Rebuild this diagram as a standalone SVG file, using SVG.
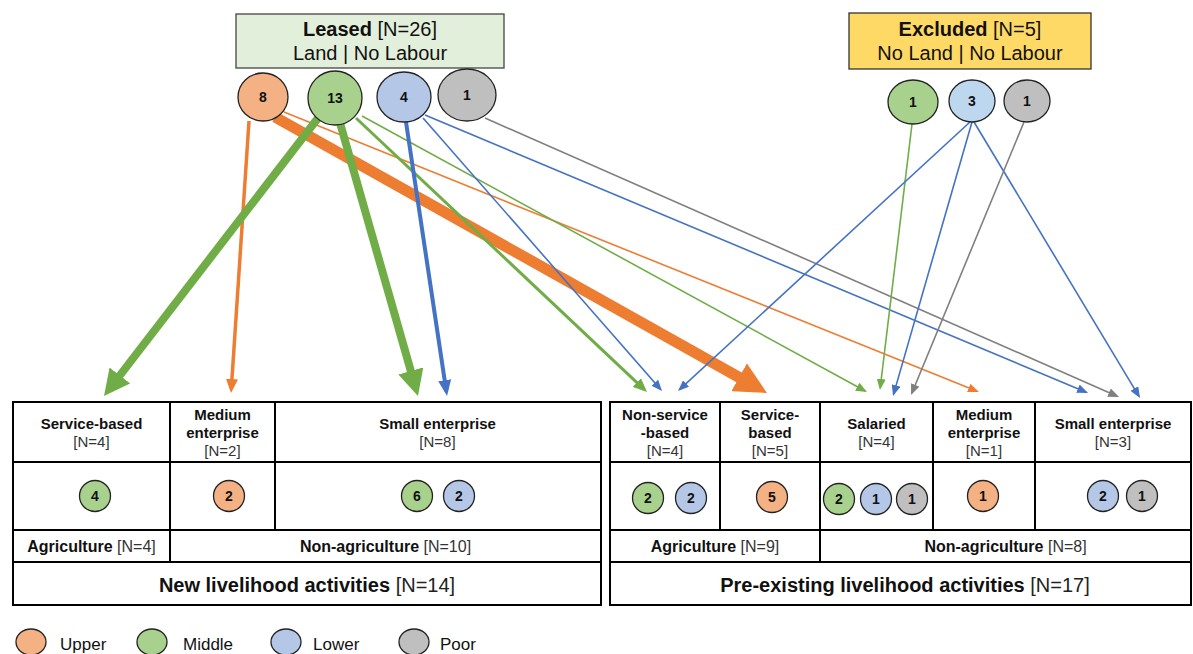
<svg xmlns="http://www.w3.org/2000/svg" width="1193" height="654" viewBox="0 0 1193 654">
  <style>
    text { font-family: "Liberation Sans", Arial, sans-serif; fill: #111; }
    .hd { font-size: 15px; font-weight: bold; text-anchor: middle; }
    .n { font-size: 15px; font-weight: normal; fill: #333; }
    .row { font-size: 16px; font-weight: bold; text-anchor: middle; }
    .title { font-size: 20px; font-weight: bold; text-anchor: middle; }
    .box { font-size: 20px; text-anchor: middle; }
    .num { font-size: 14px; font-weight: bold; text-anchor: middle; }
    .leg { font-size: 17px; }
    .cell { fill: #fff; stroke: #000; stroke-width: 2; }
    .up { fill: #f4b183; stroke: #222; stroke-width: 1.3; }
    .mid { fill: #a9d18e; stroke: #222; stroke-width: 1.3; }
    .low { fill: #b4c7e7; stroke: #222; stroke-width: 1.3; }
    .low2 { fill: #bdd7ee; stroke: #222; stroke-width: 1.3; }
    .poor { fill: #bfbfbf; stroke: #222; stroke-width: 1.3; }
    .c { fill: none; }
    .co { stroke: #ed7d31; }
    .cg { stroke: #70ad47; }
    .cb { stroke: #4472c4; }
    .cy { stroke: #7f7f7f; }
  </style>
  <defs>
    <marker id="sm-o" markerUnits="userSpaceOnUse" markerWidth="11" markerHeight="9" viewBox="0 0 11 9" refX="9" refY="4.5" orient="auto"><path d="M0,0 L11,4.5 L0,9 z" fill="#ed7d31"/></marker>
    <marker id="sm-g" markerUnits="userSpaceOnUse" markerWidth="11" markerHeight="9" viewBox="0 0 11 9" refX="9" refY="4.5" orient="auto"><path d="M0,0 L11,4.5 L0,9 z" fill="#70ad47"/></marker>
    <marker id="sm-b" markerUnits="userSpaceOnUse" markerWidth="11" markerHeight="9" viewBox="0 0 11 9" refX="9" refY="4.5" orient="auto"><path d="M0,0 L11,4.5 L0,9 z" fill="#4472c4"/></marker>
    <marker id="sm-y" markerUnits="userSpaceOnUse" markerWidth="11" markerHeight="9" viewBox="0 0 11 9" refX="9" refY="4.5" orient="auto"><path d="M0,0 L11,4.5 L0,9 z" fill="#7f7f7f"/></marker>
    <marker id="md-o" markerUnits="userSpaceOnUse" markerWidth="14" markerHeight="12" viewBox="0 0 14 12" refX="10" refY="6" orient="auto"><path d="M0,0 L14,6 L0,12 z" fill="#ed7d31"/></marker>
    <marker id="md-g" markerUnits="userSpaceOnUse" markerWidth="14" markerHeight="12" viewBox="0 0 14 12" refX="10" refY="6" orient="auto"><path d="M0,0 L14,6 L0,12 z" fill="#70ad47"/></marker>
    <marker id="bl-b" markerUnits="userSpaceOnUse" markerWidth="16" markerHeight="13" viewBox="0 0 16 13" refX="11" refY="6.5" orient="auto"><path d="M0,0 L16,6.5 L0,13 z" fill="#4472c4"/></marker>
    <marker id="lg-g" markerUnits="userSpaceOnUse" markerWidth="26" markerHeight="26" viewBox="0 0 26 26" refX="17" refY="13" orient="auto"><path d="M0,0 L26,13 L0,26 z" fill="#70ad47"/></marker>
    <marker id="xl-o" markerUnits="userSpaceOnUse" markerWidth="32" markerHeight="32" viewBox="0 0 32 32" refX="20" refY="16" orient="auto"><path d="M0,0 L32,16 L0,32 z" fill="#ed7d31"/></marker>
  </defs>

  <rect width="1193" height="654" fill="#fff"/>

  <!-- connectors -->
  <g id="connectors" class="c">
    <!-- from Leased / Upper -->
    <path class="co" d="M249,121 L231.3,389" stroke-width="3.5" marker-end="url(#md-o)"/>
    <path class="co" d="M275,117 L756.5,387.1" stroke-width="11" marker-end="url(#xl-o)"/>
    <path class="co" d="M284,112 L977.1,391.3" stroke-width="1.6" marker-end="url(#sm-o)"/>
    <!-- from Leased / Middle -->
    <path class="cg" d="M318,118 L109.5,388.9" stroke-width="8" marker-end="url(#lg-g)"/>
    <path class="cg" d="M340,123 L415.5,387.3" stroke-width="8" marker-end="url(#lg-g)"/>
    <path class="cg" d="M356,118 L644.1,389.3" stroke-width="3" marker-end="url(#md-g)"/>
    <path class="cg" d="M362,116 L865.2,391" stroke-width="1.6" marker-end="url(#sm-g)"/>
    <!-- from Leased / Lower -->
    <path class="cb" d="M406,122 L446.3,391.1" stroke-width="4" marker-end="url(#bl-b)"/>
    <path class="cb" d="M423,118 L660.7,389.5" stroke-width="1.6" marker-end="url(#sm-b)"/>
    <path class="cb" d="M425,115 L1086.2,392.2" stroke-width="1.6" marker-end="url(#sm-b)"/>
    <!-- from Leased / Poor -->
    <path class="cy" d="M485,118 L1117.2,396.2" stroke-width="1.6" marker-end="url(#sm-y)"/>
    <!-- from Excluded -->
    <path class="cg" d="M912,124 L880.2,388" stroke-width="1.6" marker-end="url(#sm-g)"/>
    <path class="cb" d="M970,122 L679.5,389.6" stroke-width="1.6" marker-end="url(#sm-b)"/>
    <path class="cb" d="M972,122 L893.6,394.1" stroke-width="1.6" marker-end="url(#sm-b)"/>
    <path class="cb" d="M974,122 L1139,396.3" stroke-width="1.6" marker-end="url(#sm-b)"/>
    <path class="cy" d="M1024,122 L911.8,393.2" stroke-width="1.6" marker-end="url(#sm-y)"/>
  </g>

  <!-- Leased group -->
  <g id="leased">
    <rect x="236" y="14" width="268" height="54" fill="#e2efda" stroke="#444" stroke-width="1.3"/>
    <text class="box" x="370" y="36"><tspan font-weight="bold">Leased</tspan> [N=26]</text>
    <text class="box" x="370" y="60">Land | No Labour</text>
  </g>
  <g id="leased-upper"><ellipse class="up" cx="263" cy="97" rx="25" ry="24"/><text class="num" x="263" y="102">8</text></g>
  <g id="leased-middle"><ellipse class="mid" cx="335" cy="98" rx="27" ry="27"/><text class="num" x="335" y="103">13</text></g>
  <g id="leased-lower"><ellipse class="low" cx="404" cy="97" rx="27" ry="25"/><text class="num" x="404" y="102">4</text></g>
  <g id="leased-poor"><ellipse class="poor" cx="467" cy="95" rx="29" ry="26"/><text class="num" x="467" y="100">1</text></g>

  <!-- Excluded group -->
  <g id="excluded">
    <rect x="849" y="13" width="242" height="56" fill="#ffd966" stroke="#333" stroke-width="1.3"/>
    <text class="box" x="970" y="36"><tspan font-weight="bold">Excluded</tspan> [N=5]</text>
    <text class="box" x="970" y="60">No Land | No Labour</text>
  </g>
  <g id="excluded-middle"><ellipse class="mid" cx="913" cy="102" rx="25" ry="22"/><text class="num" x="913" y="107">1</text></g>
  <g id="excluded-lower"><ellipse class="low2" cx="972" cy="101" rx="23" ry="21"/><text class="num" x="972" y="106">3</text></g>
  <g id="excluded-poor"><ellipse class="poor" cx="1027" cy="101" rx="23" ry="21"/><text class="num" x="1027" y="106">1</text></g>

  <!-- New livelihood activities table -->
  <g id="new-activities">
    <rect class="cell" x="13" y="402" width="588" height="203"/>
    <path d="M13,462 H601 M13,530 H601 M13,562 H601 M170,402 V562 M275,402 V530" stroke="#000" stroke-width="2" fill="none"/>
    <text class="hd" x="91.5" y="429">Service-based</text>
    <text class="hd n" x="91.5" y="447" text-anchor="middle">[N=4]</text>
    <text class="hd" x="222.5" y="420">Medium</text>
    <text class="hd" x="222.5" y="438">enterprise</text>
    <text class="hd n" x="222.5" y="456" text-anchor="middle">[N=2]</text>
    <text class="hd" x="437.5" y="429">Small enterprise</text>
    <text class="hd n" x="437.5" y="447" text-anchor="middle">[N=8]</text>
    <g id="new-service-middle"><circle class="mid" cx="95" cy="496" r="15.5"/><text class="num" x="95" y="501">4</text></g>
    <g id="new-medium-upper"><circle class="up" cx="229" cy="496" r="15.5"/><text class="num" x="229" y="501">2</text></g>
    <g id="new-small-middle"><circle class="mid" cx="417" cy="496" r="15.5"/><text class="num" x="417" y="501">6</text></g>
    <g id="new-small-lower"><circle class="low" cx="459" cy="496" r="15.5"/><text class="num" x="459" y="501">2</text></g>
    <text class="row" x="91.5" y="552">Agriculture <tspan font-weight="normal" fill="#333">[N=4]</tspan></text>
    <text class="row" x="385.5" y="552">Non-agriculture <tspan font-weight="normal" fill="#333">[N=10]</tspan></text>
    <text class="title" x="307" y="592">New livelihood activities <tspan font-weight="normal" fill="#222">[N=14]</tspan></text>
  </g>

  <!-- Pre-existing livelihood activities table -->
  <g id="pre-existing-activities">
    <rect class="cell" x="610" y="402" width="581" height="203"/>
    <path d="M610,462 H1191 M610,530 H1191 M610,562 H1191 M820,402 V562 M720,402 V530 M933,402 V530 M1035,402 V530" stroke="#000" stroke-width="2" fill="none"/>
    <text class="hd" x="665" y="420">Non-service</text>
    <text class="hd" x="665" y="438">-based</text>
    <text class="hd n" x="665" y="456" text-anchor="middle">[N=4]</text>
    <text class="hd" x="770" y="420">Service-</text>
    <text class="hd" x="770" y="438">based</text>
    <text class="hd n" x="770" y="456" text-anchor="middle">[N=5]</text>
    <text class="hd" x="876.5" y="429">Salaried</text>
    <text class="hd n" x="876.5" y="447" text-anchor="middle">[N=4]</text>
    <text class="hd" x="984" y="420">Medium</text>
    <text class="hd" x="984" y="438">enterprise</text>
    <text class="hd n" x="984" y="456" text-anchor="middle">[N=1]</text>
    <text class="hd" x="1113" y="429">Small enterprise</text>
    <text class="hd n" x="1113" y="447" text-anchor="middle">[N=3]</text>
    <g id="pre-nonservice-middle"><circle class="mid" cx="648" cy="498" r="15.5"/><text class="num" x="648" y="503">2</text></g>
    <g id="pre-nonservice-lower"><circle class="low" cx="691" cy="498" r="15.5"/><text class="num" x="691" y="503">2</text></g>
    <g id="pre-service-upper"><circle class="up" cx="772" cy="497" r="15.5"/><text class="num" x="772" y="502">5</text></g>
    <g id="pre-salaried-middle"><circle class="mid" cx="839" cy="499" r="15.5"/><text class="num" x="839" y="504">2</text></g>
    <g id="pre-salaried-lower"><circle class="low" cx="876" cy="499" r="15.5"/><text class="num" x="876" y="504">1</text></g>
    <g id="pre-salaried-poor"><circle class="poor" cx="912" cy="499" r="15.5"/><text class="num" x="912" y="504">1</text></g>
    <g id="pre-medium-upper"><circle class="up" cx="983" cy="496" r="15.5"/><text class="num" x="983" y="501">1</text></g>
    <g id="pre-small-lower"><circle class="low" cx="1103" cy="496" r="15.5"/><text class="num" x="1103" y="501">2</text></g>
    <g id="pre-small-poor"><circle class="poor" cx="1142" cy="496" r="15.5"/><text class="num" x="1142" y="501">1</text></g>
    <text class="row" x="715" y="552">Agriculture <tspan font-weight="normal" fill="#333">[N=9]</tspan></text>
    <text class="row" x="1005.5" y="552">Non-agriculture <tspan font-weight="normal" fill="#333">[N=8]</tspan></text>
    <text class="title" x="905" y="592">Pre-existing livelihood activities <tspan font-weight="normal" fill="#222">[N=17]</tspan></text>
  </g>

  <!-- legend -->
  <g id="legend">
    <ellipse class="up" cx="31" cy="642" rx="15" ry="13"/><text class="leg" x="60" y="650">Upper</text>
    <ellipse class="mid" cx="152" cy="642" rx="15" ry="13"/><text class="leg" x="183" y="650">Middle</text>
    <ellipse class="low" cx="286" cy="642" rx="15" ry="13"/><text class="leg" x="313" y="650">Lower</text>
    <ellipse class="poor" cx="414" cy="642" rx="15" ry="13"/><text class="leg" x="440" y="650">Poor</text>
  </g>
</svg>
